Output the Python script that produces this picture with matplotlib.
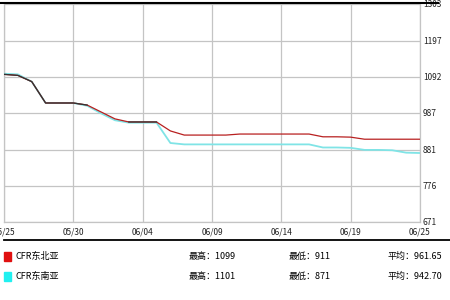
import numpy as np
import matplotlib.pyplot as plt
from matplotlib.lines import Line2D

plt.rcParams['font.family'] = ['Noto Sans CJK SC', 'DejaVu Sans']

# 数据
x_labels = ["05/25", "05/30", "06/04", "06/09", "06/14", "06/19", "06/25"]
x_label_pos = [0, 5, 10, 15, 20, 25, 30]
y_ticks = [671, 776, 881, 987, 1092, 1197, 1303]

ne_asia = [1099, 1096, 1078, 1016, 1016, 1016, 1010, 990, 970, 961,
           961, 961, 935, 923, 923, 923, 923, 926, 926, 926,
           926, 926, 926, 918, 918, 917, 911, 911, 911, 911, 911]
se_asia = [1101, 1099, 1078, 1016, 1016, 1016, 1008, 986, 966, 959,
           959, 959, 900, 896, 896, 896, 896, 896, 896, 896,
           896, 896, 896, 887, 887, 886, 880, 880, 879, 872, 871]

names = ["CFR东北亚", "CFR东南亚"]
highs = ["1099", "1101"]
lows = ["911", "871"]
avgs = ["961.65", "942.70"]
colors = ["#e01010", "#20f0f0"]

ne = np.array(ne_asia, dtype=float)
se = np.array(se_asia, dtype=float)
x = np.arange(len(ne))

fig = plt.figure(figsize=(4.5, 3), dpi=100)
ax = fig.add_axes([4 / 450, 78 / 300, 416 / 450, 218 / 300])

ax.plot(x, se, color="#80e4e6", lw=1.3, zorder=3)
ax.plot(x, ne, color="#b82020", lw=0.9, zorder=4)
# 重叠部分显示为深色
both = np.ma.masked_where(np.abs(ne - se) > 3, ne)
ax.plot(x, both, color="#333333", lw=0.9, zorder=5)

ax.set_xlim(0, 30)
ax.set_ylim(y_ticks[0], y_ticks[-1])
ax.set_xticks(x_label_pos)
ax.set_xticklabels(x_labels)
ax.set_yticks(y_ticks)
ax.set_yticklabels([str(v) for v in y_ticks])
ax.yaxis.tick_right()
ax.tick_params(axis="both", length=0, labelsize=6, colors="#222222")
ax.tick_params(axis="x", pad=4)
ax.tick_params(axis="y", pad=2)
ax.grid(True, color="#c4c4c4", lw=0.9)
for s in ax.spines.values():
    s.set_color("#c4c4c4")
    s.set_linewidth(0.9)
ax.spines["top"].set_visible(False)

# 顶部和图例上方的黑线
fig.add_artist(Line2D([0, 438 / 450], [297 / 300, 297 / 300], color="black", lw=1.5))
fig.add_artist(Line2D([4 / 450, 1], [60 / 300, 60 / 300], color="black", lw=1.3))

# 图例
rows_y = [44 / 300, 24 / 300]
for i in range(2):
    y = rows_y[i]
    fig.patches.append(plt.Rectangle((4 / 450, y - 4.5 / 300), 7 / 450, 9 / 300,
                                     transform=fig.transFigure, color=colors[i]))
    fig.text(15 / 450, y, names[i], fontsize=6.5, va="center")
    fig.text(189 / 450, y, "最高：" + highs[i], fontsize=6.5, va="center")
    fig.text(289 / 450, y, "最低：" + lows[i], fontsize=6.5, va="center")
    fig.text(388 / 450, y, "平均：" + avgs[i], fontsize=6.5, va="center")

fig.savefig("out.png", dpi=100)
